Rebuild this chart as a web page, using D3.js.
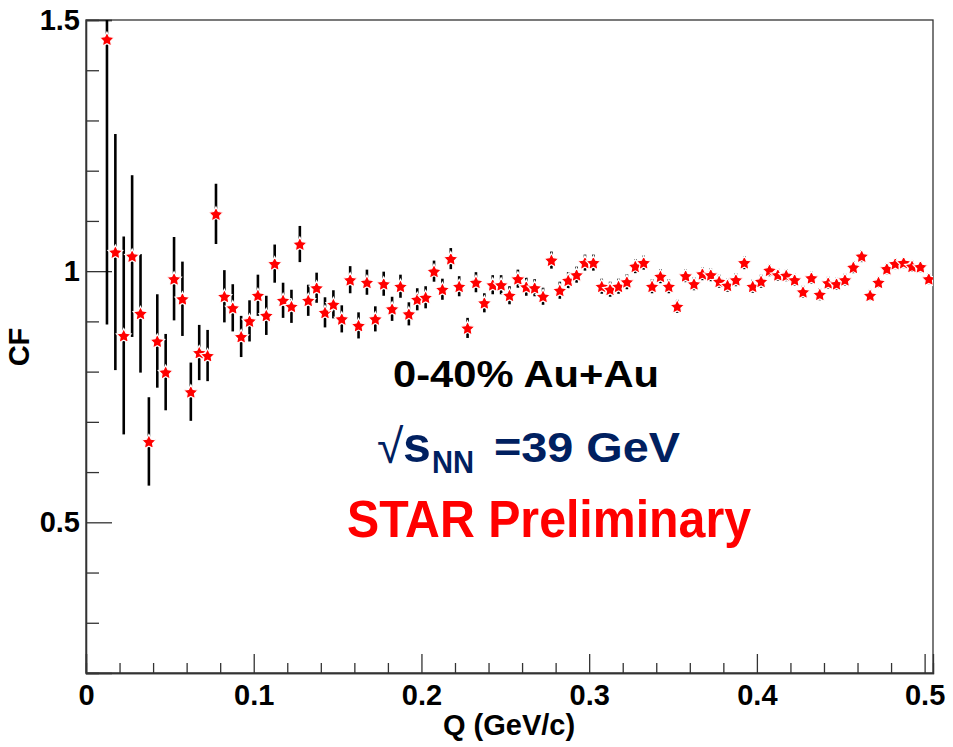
<!DOCTYPE html>
<html>
<head>
<meta charset="utf-8">
<script src="https://cdn.jsdelivr.net/npm/d3@7.9.0/dist/d3.min.js"></script>
<style>
  body { margin: 0; background: #fff; }
  svg { display: block; font-family: "Liberation Sans", Arial, sans-serif; }
</style>
</head>
<body>
<svg id="chart" width="953" height="747"></svg>
<script>
// bin centres of Q (GeV/c)
const qValues = [
  0.0125, 0.0175, 0.0225, 0.0275, 0.0325, 0.0375, 0.0425, 0.0475, 0.0525, 0.0575,
  0.0625, 0.0675, 0.0725, 0.0775, 0.0825, 0.0875, 0.0925, 0.0975, 0.1025, 0.1075,
  0.1125, 0.1175, 0.1225, 0.1275, 0.1325, 0.1375, 0.1425, 0.1475, 0.1525, 0.1575,
  0.1625, 0.1675, 0.1725, 0.1775, 0.1825, 0.1875, 0.1925, 0.1975, 0.2025, 0.2075,
  0.2125, 0.2175, 0.2225, 0.2275, 0.2325, 0.2375, 0.2425, 0.2475, 0.2525, 0.2575,
  0.2625, 0.2675, 0.2725, 0.2775, 0.2825, 0.2875, 0.2925, 0.2975, 0.3025, 0.3075,
  0.3125, 0.3175, 0.3225, 0.3275, 0.3325, 0.3375, 0.3425, 0.3475, 0.3525, 0.3575,
  0.3625, 0.3675, 0.3725, 0.3775, 0.3825, 0.3875, 0.3925, 0.3975, 0.4025, 0.4075,
  0.4125, 0.4175, 0.4225, 0.4275, 0.4325, 0.4375, 0.4425, 0.4475, 0.4525, 0.4575,
  0.4625, 0.4675, 0.4725, 0.4775, 0.4825, 0.4875, 0.4925, 0.4975, 0.5025
];

// correlation function values
const cfValues = [
  1.462, 1.038, 0.872, 1.030, 0.916, 0.661, 0.861, 0.799, 0.985, 0.945,
  0.760, 0.838, 0.832, 1.114, 0.950, 0.927, 0.870, 0.901, 0.952, 0.912,
  1.015, 0.942, 0.930, 1.054, 0.942, 0.967, 0.918, 0.934, 0.905, 0.983,
  0.892, 0.978, 0.905, 0.975, 0.925, 0.970, 0.915, 0.944, 0.948, 1.000,
  0.964, 1.025, 0.970, 0.887, 0.978, 0.937, 0.973, 0.973, 0.952, 0.985,
  0.969, 0.967, 0.950, 1.022, 0.962, 0.982, 0.993, 1.017, 1.017, 0.970,
  0.964, 0.970, 0.979, 1.010, 1.017, 0.970, 0.990, 0.970, 0.930, 0.991,
  0.975, 0.995, 0.993, 0.980, 0.972, 0.983, 1.017, 0.970, 0.980, 1.002,
  0.993, 0.992, 0.983, 0.959, 0.987, 0.954, 0.977, 0.975, 0.983, 1.008,
  1.030, 0.952, 0.978, 1.005, 1.015, 1.017, 1.010, 1.009, 0.985
];

// statistical errors
const cfErrors = [
  0.568, 0.235, 0.197, 0.161, 0.118, 0.088, 0.093, 0.076, 0.083, 0.074,
  0.058, 0.055, 0.051, 0.060, 0.052, 0.047, 0.041, 0.041, 0.041, 0.039,
  0.038, 0.035, 0.033, 0.036, 0.031, 0.030, 0.030, 0.028, 0.027, 0.027,
  0.026, 0.025, 0.025, 0.024, 0.024, 0.023, 0.023, 0.022, 0.022, 0.021,
  0.021, 0.021, 0.020, 0.020, 0.020, 0.019, 0.019, 0.019, 0.018, 0.018,
  0.018, 0.017, 0.017, 0.017, 0.017, 0.016, 0.016, 0.016, 0.016, 0.015,
  0.015, 0.015, 0.015, 0.014, 0.014, 0.014, 0.014, 0.014, 0.013, 0.013,
  0.013, 0.013, 0.013, 0.013, 0.013, 0.013, 0.013, 0.013, 0.013, 0.012,
  0.012, 0.012, 0.012, 0.012, 0.012, 0.012, 0.012, 0.012, 0.012, 0.012,
  0.012, 0.011, 0.011, 0.011, 0.011, 0.011, 0.011, 0.011, 0.011
];

const xMajorTicks = [0, 0.1, 0.2, 0.3, 0.4, 0.5];
const xMinorTicks = [0.02, 0.04, 0.06, 0.08, 0.12, 0.14, 0.16, 0.18, 0.22, 0.24, 0.26, 0.28,
                     0.32, 0.34, 0.36, 0.38, 0.42, 0.44, 0.46, 0.48];
const yMajorTicks = [0.5, 1, 1.5];
const yMinorTicks = [0.3, 0.4, 0.6, 0.7, 0.8, 0.9, 1.1, 1.2, 1.3, 1.4];

const data = qValues.map((q, i) => ({ q: q, cf: cfValues[i], err: cfErrors[i] }));

const svg = d3.select("#chart");
const margin = { left: 86, top: 20, right: 20, bottom: 74 };
const width = 953, height = 747;

const x = d3.scaleLinear().domain([0, 0.505]).range([margin.left, width - margin.right]);
const y = d3.scaleLinear().domain([0.2, 1.5]).range([height - margin.bottom, margin.top]);

const axisColor = "#333";

svg.append("clipPath").attr("id", "plot-clip")
  .append("rect")
  .attr("x", margin.left).attr("y", margin.top)
  .attr("width", width - margin.left - margin.right)
  .attr("height", height - margin.top - margin.bottom);

// frame
svg.append("rect")
  .attr("x", margin.left).attr("y", margin.top)
  .attr("width", width - margin.left - margin.right)
  .attr("height", height - margin.top - margin.bottom)
  .attr("fill", "none")
  .attr("stroke", axisColor)
  .attr("stroke-width", 1.3);

// x axis, ticks pointing inward
svg.append("g")
  .attr("transform", `translate(0,${height - margin.bottom})`)
  .call(d3.axisBottom(x).tickValues(xMajorTicks).tickSize(-19).tickPadding(11).tickFormat(d => d));
svg.append("g")
  .attr("transform", `translate(0,${height - margin.bottom})`)
  .call(d3.axisBottom(x).tickValues(xMinorTicks).tickSize(-10).tickFormat(""));

// y axis
svg.append("g")
  .attr("transform", `translate(${margin.left},0)`)
  .call(d3.axisLeft(y).tickValues(yMajorTicks).tickSize(-26).tickPadding(6).tickFormat(d => d));
svg.append("g")
  .attr("transform", `translate(${margin.left},0)`)
  .call(d3.axisLeft(y).tickValues(yMinorTicks).tickSize(-13).tickFormat(""));

svg.selectAll(".domain").attr("stroke", axisColor).attr("stroke-width", 1.3);
svg.selectAll(".tick line").attr("stroke", axisColor).attr("stroke-width", 1.3);
svg.selectAll(".tick text")
  .attr("font-size", 29)
  .attr("font-weight", "bold")
  .attr("font-family", "Liberation Sans, Arial, sans-serif")
  .attr("fill", "#000");

// axis titles
svg.append("text")
  .attr("x", 509).attr("y", 735)
  .attr("text-anchor", "middle")
  .attr("font-size", 29).attr("font-weight", "bold")
  .text("Q (GeV/c)");

svg.append("text")
  .attr("transform", "translate(29,347) rotate(-90)")
  .attr("text-anchor", "middle")
  .attr("font-size", 29).attr("font-weight", "bold")
  .text("CF");

// error bars
const plot = svg.append("g").attr("clip-path", "url(#plot-clip)");
plot.selectAll("line.err")
  .data(data)
  .enter()
  .append("line")
  .attr("class", "err")
  .attr("x1", d => x(d.q)).attr("x2", d => x(d.q))
  .attr("y1", d => y(d.cf + d.err))
  .attr("y2", d => y(d.cf - d.err))
  .attr("stroke", "#000")
  .attr("stroke-width", 2.6);

// fat five-point star, like ROOT marker 29
const fatStar = {
  draw(context, size) {
    const r = Math.sqrt(size) / 2;
    const ri = r * 0.5;
    for (let i = 0; i < 10; i++) {
      const a = -Math.PI / 2 + i * Math.PI / 5;
      const rr = i % 2 === 0 ? r : ri;
      if (i === 0) context.moveTo(rr * Math.cos(a), rr * Math.sin(a));
      else context.lineTo(rr * Math.cos(a), rr * Math.sin(a));
    }
    context.closePath();
  }
};
const star = d3.symbol().type(fatStar).size(240);
plot.selectAll("path.pt")
  .data(data)
  .enter()
  .append("path")
  .attr("class", "pt")
  .attr("d", star)
  .attr("transform", d => `translate(${x(d.q)},${y(d.cf) + 0.8})`)
  .attr("fill", "#ff0000")
  .attr("stroke", "#fff")
  .attr("stroke-width", 1.2);

// annotations
svg.append("text")
  .attr("x", 393).attr("y", 387)
  .attr("font-size", 37).attr("font-weight", "bold")
  .attr("fill", "#000")
  .attr("textLength", 266).attr("lengthAdjust", "spacingAndGlyphs")
  .text("0-40% Au+Au");

const energy = svg.append("g").attr("fill", "#002060").attr("font-weight", "bold");
energy.append("text").attr("x", 377).attr("y", 463)
  .attr("font-size", 48).attr("font-weight", "normal").text("√");
energy.append("text").attr("x", 403).attr("y", 462)
  .attr("font-size", 50).text("s");
energy.append("text").attr("x", 432).attr("y", 473)
  .attr("font-size", 32)
  .attr("textLength", 42).attr("lengthAdjust", "spacingAndGlyphs")
  .text("NN");
energy.append("text").attr("x", 494).attr("y", 462)
  .attr("font-size", 42)
  .attr("textLength", 186).attr("lengthAdjust", "spacingAndGlyphs")
  .text("=39 GeV");

svg.append("text")
  .attr("x", 347).attr("y", 537)
  .attr("font-size", 51).attr("font-weight", "bold")
  .attr("fill", "#ff0000")
  .attr("textLength", 404).attr("lengthAdjust", "spacingAndGlyphs")
  .text("STAR Preliminary");
</script>
</body>
</html>
